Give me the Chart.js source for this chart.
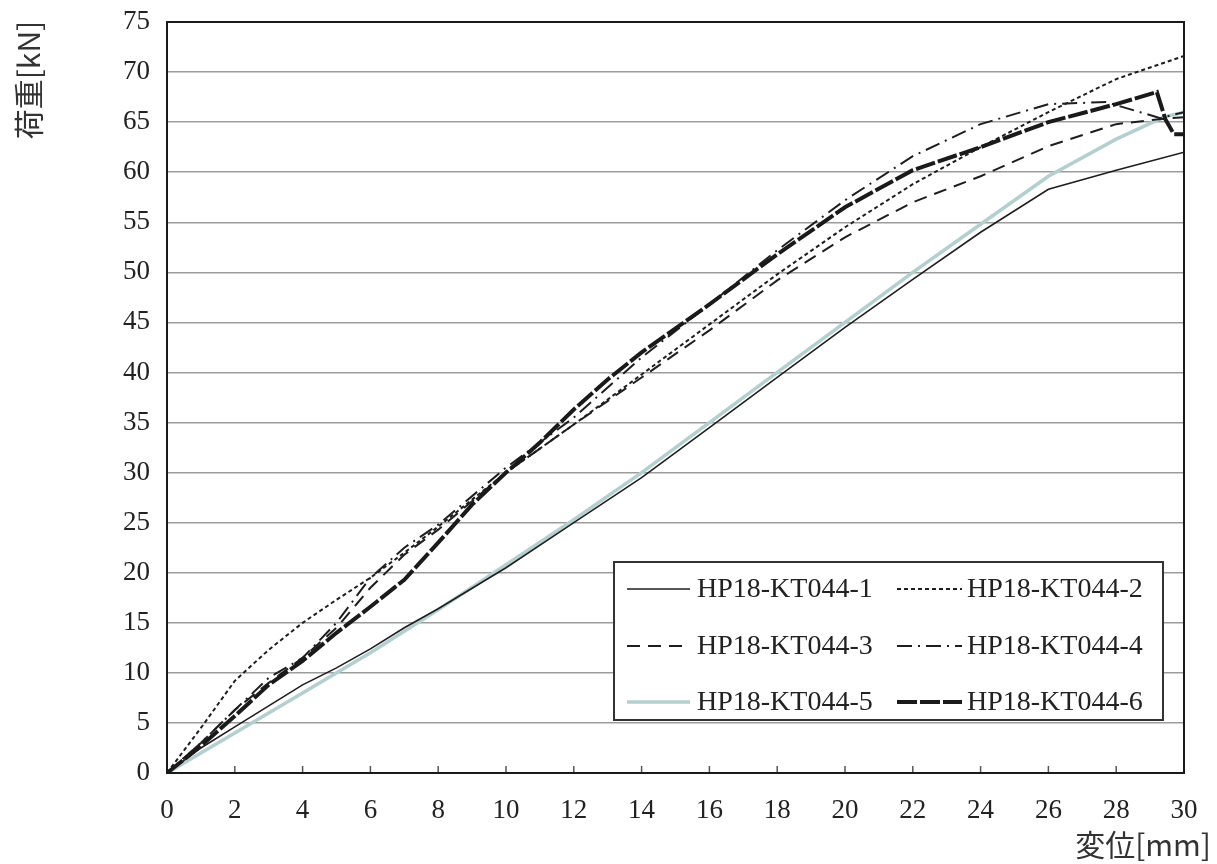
<!DOCTYPE html>
<html>
<head>
<meta charset="utf-8">
<title>荷重-変位</title>
<script src="https://cdn.jsdelivr.net/npm/chart.js@4/dist/chart.umd.min.js"></script>
<style>
  html, body { margin: 0; padding: 0; background: #fff; }
  #wrap { width: 1217px; height: 864px; }
</style>
</head>
<body>
<div id="wrap"><canvas id="c" width="1217" height="864"></canvas></div>
<script>
// ---- data (displacement mm / load kN) ----
const seriesNames = ['HP18-KT044-1', 'HP18-KT044-2', 'HP18-KT044-3', 'HP18-KT044-4', 'HP18-KT044-5', 'HP18-KT044-6'];

const disp1 = [0, 1, 2, 3, 4, 5, 6, 7, 8, 10, 12, 14, 16, 18, 20, 22, 24, 26, 28, 30];
const load1 = [0, 2.5, 4.6, 6.7, 8.8, 10.5, 12.4, 14.5, 16.4, 20.5, 25, 29.5, 34.5, 39.5, 44.5, 49.3, 54, 58.3, 60.2, 62];

const disp2 = [0, 1, 2, 3, 4, 5, 6, 7, 8, 10, 12, 14, 16, 18, 20, 22, 24, 26, 28, 30];
const load2 = [0, 4.5, 9.2, 12.3, 15, 17.3, 19.5, 22, 24.6, 30, 34.8, 39.8, 44.8, 49.8, 54.5, 58.8, 62.5, 66, 69.3, 71.6];

const disp3 = [0, 1, 2, 3, 4, 5, 6, 7, 8, 10, 12, 14, 16, 18, 20, 22, 24, 26, 28, 29.3, 30];
const load3 = [0, 3, 6.3, 9, 11.5, 14.5, 18.5, 21.8, 24.3, 30, 34.8, 39.5, 44.2, 49.2, 53.5, 57, 59.6, 62.6, 64.8, 65.3, 65.5];

const disp4 = [0, 1, 2, 3, 4, 5, 6, 7, 8, 10, 12, 14, 16, 18, 20, 22, 24, 26, 27.7, 29.3, 30];
const load4 = [0, 3, 6.3, 9.5, 11.5, 15, 19.5, 22.5, 24.8, 30.5, 35.5, 41.5, 46.8, 52.2, 57.2, 61.6, 64.8, 66.8, 67, 65.4, 66];

const disp5 = [0, 1, 2, 3, 4, 6, 8, 10, 12, 14, 16, 18, 20, 22, 24, 26, 28, 29.4, 30];
const load5 = [0, 2, 4, 6, 8, 12, 16.3, 20.8, 25.3, 30, 35, 40, 45, 50, 54.8, 59.6, 63.3, 65.5, 66];

const disp6 = [0, 1, 2, 3, 4, 5, 6, 7, 8, 9, 10, 11, 12, 13, 14, 16, 18, 20, 22, 24, 26, 28, 29.2, 29.45, 29.7, 30];
const load6 = [0, 2.7, 5.7, 8.8, 11.2, 14, 16.6, 19.3, 23, 26.8, 30, 33, 36.3, 39.3, 42, 46.8, 51.8, 56.5, 60.2, 62.5, 65, 66.8, 68, 65.3, 63.8, 63.8];

const xTicks = [0, 2, 4, 6, 8, 10, 12, 14, 16, 18, 20, 22, 24, 26, 28, 30];
const yTicks = [0, 5, 10, 15, 20, 25, 30, 35, 40, 45, 50, 55, 60, 65, 70, 75];

const xTitle = '変位[mm]';
const yTitle = '荷重[kN]';

// ---- styles ----
const serif = "'Liberation Serif', 'DejaVu Serif', serif";
const cjk = "'Noto Sans CJK JP', sans-serif";

const lineStyles = [
  { color: '#1e1e1e', width: 1.6, dash: [] },
  { color: '#1e1e1e', width: 2, dash: [4, 3] },
  { color: '#1e1e1e', width: 2, dash: [13, 8] },
  { color: '#1e1e1e', width: 2, dash: [15, 6, 2, 6] },
  { color: '#b3cfcf', width: 3.5, dash: [] },
  { color: '#1a1a1a', width: 4, dash: [20, 3] }
];

function toPoints(xs, ys) {
  return xs.map((x, i) => ({ x: x, y: ys[i] }));
}

const allDisp = [disp1, disp2, disp3, disp4, disp5, disp6];
const allLoad = [load1, load2, load3, load4, load5, load6];
// draw order: cyan series at the bottom, thin solid above it
const drawOrder = [2, 5, 4, 3, 6, 1];

const datasets = seriesNames.map((name, i) => ({
  label: name,
  data: toPoints(allDisp[i], allLoad[i]),
  borderColor: lineStyles[i].color,
  borderWidth: lineStyles[i].width,
  borderDash: lineStyles[i].dash,
  pointRadius: 0,
  tension: 0,
  fill: false,
  order: drawOrder[i]
}));

// frame, inner ticks, legend box and the two axis titles
const decorPlugin = {
  id: 'decor',
  afterDatasetsDraw(chart) {
    const ctx = chart.ctx;
    const a = chart.chartArea;
    const xs = chart.scales.x;

    ctx.save();
    // small tick marks pointing into the plot
    ctx.strokeStyle = '#555';
    ctx.lineWidth = 1.5;
    xTicks.forEach(v => {
      const px = xs.getPixelForValue(v);
      ctx.beginPath();
      ctx.moveTo(px, a.bottom);
      ctx.lineTo(px, a.bottom - 7);
      ctx.stroke();
    });

    // plot frame
    ctx.strokeStyle = '#1a1a1a';
    ctx.lineWidth = 2;
    ctx.strokeRect(a.left, a.top, a.right - a.left, a.bottom - a.top);

    // legend box
    const box = { left: 614, top: 562, right: 1163, bottom: 720 };
    ctx.fillStyle = '#fff';
    ctx.fillRect(box.left, box.top, box.right - box.left, box.bottom - box.top);
    ctx.strokeStyle = '#333';
    ctx.lineWidth = 2;
    ctx.strokeRect(box.left, box.top, box.right - box.left, box.bottom - box.top);

    const rows = [589, 646, 702];
    const cols = [{ x0: 627, x1: 690, tx: 697 }, { x0: 897, x1: 962, tx: 967 }];
    ctx.font = '28px ' + serif;
    ctx.textBaseline = 'middle';
    ctx.textAlign = 'left';
    seriesNames.forEach((name, i) => {
      const r = rows[Math.floor(i / 2)];
      const c = cols[i % 2];
      const st = lineStyles[i];
      ctx.strokeStyle = st.color;
      ctx.lineWidth = st.width;
      ctx.setLineDash(st.dash);
      ctx.beginPath();
      ctx.moveTo(c.x0, r);
      ctx.lineTo(c.x1, r);
      ctx.stroke();
      ctx.setLineDash([]);
      ctx.fillStyle = '#222';
      ctx.fillText(name, c.tx, r + 1);
    });

    // axis titles
    ctx.fillStyle = '#333';
    ctx.font = '30px ' + cjk;
    ctx.textAlign = 'right';
    ctx.textBaseline = 'middle';
    ctx.fillText(xTitle, 1211, 845);

    ctx.translate(29, 80);
    ctx.rotate(-Math.PI / 2);
    ctx.textAlign = 'center';
    ctx.fillText(yTitle, 0, 0);
    ctx.restore();
  }
};

new Chart(document.getElementById('c'), {
  type: 'line',
  data: { datasets: datasets },
  options: {
    responsive: false,
    animation: false,
    layout: { padding: { top: 22, right: 33, left: 0, bottom: 0 } },
    plugins: {
      legend: { display: false },
      tooltip: { enabled: false }
    },
    scales: {
      x: {
        type: 'linear',
        min: 0,
        max: 30,
        afterBuildTicks: (scale) => { scale.ticks = xTicks.map(v => ({ value: v })); },
        afterFit: (scale) => {
          scale.height = 91;
          scale.paddingLeft = 0;
          scale.paddingRight = 0;
        },
        grid: { display: false, drawTicks: false },
        border: { display: false },
        ticks: {
          padding: 22,
          maxRotation: 0,
          color: '#222',
          font: { family: serif, size: 27 }
        }
      },
      y: {
        min: 0,
        max: 75,
        afterBuildTicks: (scale) => { scale.ticks = yTicks.map(v => ({ value: v })); },
        afterFit: (scale) => {
          scale.width = 167;
          scale.paddingTop = 0;
          scale.paddingBottom = 0;
        },
        grid: { color: '#9c9c9c', lineWidth: 1.5, drawTicks: false },
        border: { display: false },
        ticks: {
          padding: 17,
          color: '#222',
          font: { family: serif, size: 27 }
        }
      }
    }
  },
  plugins: [decorPlugin]
});
</script>
</body>
</html>
